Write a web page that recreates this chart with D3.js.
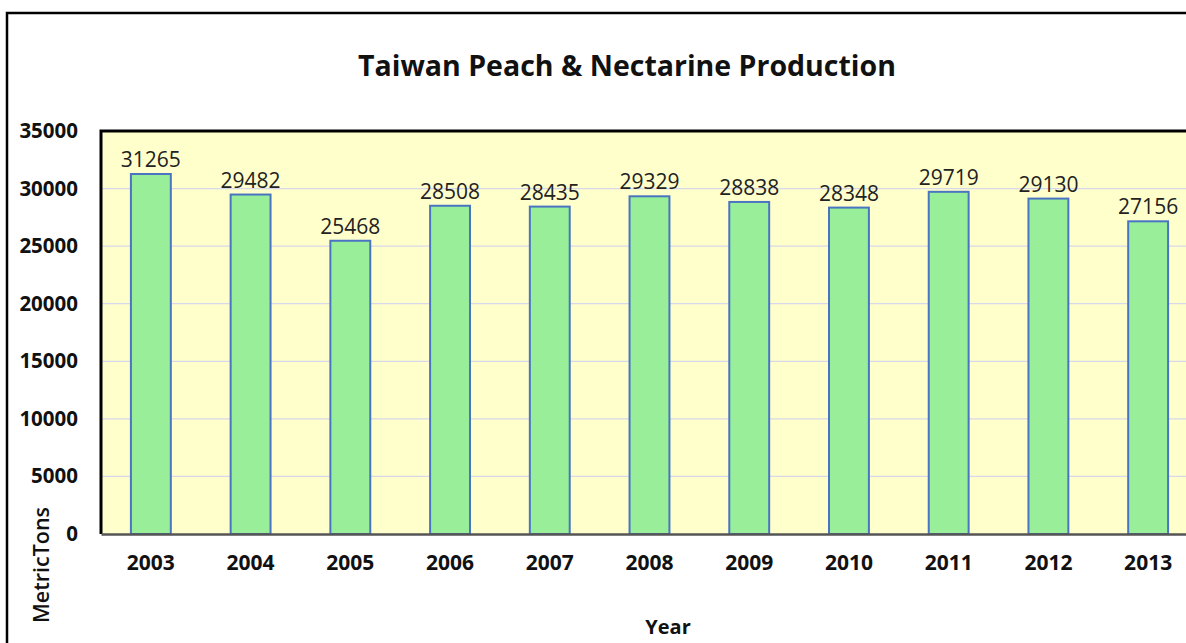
<!DOCTYPE html>
<html>
<head>
<meta charset="utf-8">
<script src="https://cdn.jsdelivr.net/npm/d3@7"></script>
<style>
	html, body { margin: 0; padding: 0; background: #fff; }
	svg { display: block; font-family: "Open Sans", sans-serif; }
</style>
</head>
<body>
<svg id="chart" width="1186" height="643"></svg>
<script>
const years = ['2003', '2004', '2005', '2006', '2007', '2008', '2009', '2010', '2011', '2012', '2013'];
const production = [31265, 29482, 25468, 28508, 28435, 29329, 28838, 28348, 29719, 29130, 27156];
const yTicks = [0, 5000, 10000, 15000, 20000, 25000, 30000, 35000];

const svg = d3.select('#chart');

const plot = { left: 101, top: 131, right: 1198, bottom: 534 };

// outer frame
svg.append('rect')
	.attr('x', 7).attr('y', 13)
	.attr('width', 1300).attr('height', 700)
	.attr('fill', '#fff')
	.attr('stroke', '#000')
	.attr('stroke-width', 2.5);

svg.append('text')
	.attr('x', 627).attr('y', 76)
	.attr('text-anchor', 'middle')
	.attr('font-size', 28.5)
	.attr('font-weight', 'bold')
	.attr('fill', '#111')
	.text('Taiwan Peach & Nectarine Production');

const x = d3.scaleBand(years, [plot.left, plot.right]).paddingInner(0.6).paddingOuter(0.3);
const y = d3.scaleLinear([0, 35000], [plot.bottom, plot.top]);

// plot background
svg.append('rect')
	.attr('x', plot.left).attr('y', plot.top)
	.attr('width', plot.right - plot.left).attr('height', plot.bottom - plot.top)
	.attr('fill', '#ffffcc');

// gridlines
svg.append('g')
	.selectAll('line')
	.data(yTicks.filter(d => d > 0 && d < 35000))
	.enter().append('line')
	.attr('x1', plot.left).attr('x2', plot.right)
	.attr('y1', d => y(d)).attr('y2', d => y(d))
	.attr('stroke', '#d8d8ec')
	.attr('stroke-width', 1.2);

// bars
svg.append('g')
	.selectAll('rect')
	.data(production)
	.enter().append('rect')
	.attr('x', (d, i) => x(years[i]))
	.attr('y', d => y(d))
	.attr('width', x.bandwidth())
	.attr('height', d => y(0) - y(d))
	.attr('fill', '#99ee99')
	.attr('stroke', '#4a74c2')
	.attr('stroke-width', 2);

// value labels
svg.append('g')
	.selectAll('text')
	.data(production)
	.enter().append('text')
	.attr('x', (d, i) => x(years[i]) + x.bandwidth() / 2)
	.attr('y', d => y(d) - 7)
	.attr('text-anchor', 'middle')
	.attr('font-size', 21)
	.attr('fill', '#222')
	.text(d => d);

// plot frame: thick left and top
svg.append('path')
	.attr('d', `M${plot.left},${plot.bottom}V${plot.top}H${plot.right}`)
	.attr('fill', 'none')
	.attr('stroke', '#000')
	.attr('stroke-width', 3);

// x axis
const xAxis = svg.append('g')
	.attr('transform', `translate(0,${plot.bottom})`)
	.call(d3.axisBottom(x).tickSize(0).tickPadding(21));
xAxis.select('.domain').attr('stroke', '#555').attr('stroke-width', 2.5);
xAxis.selectAll('text')
	.attr('font-family', '"Open Sans", sans-serif')
	.attr('font-size', 21)
	.attr('font-weight', 'bold')
	.attr('fill', '#111');

// y axis
const yAxis = svg.append('g')
	.attr('transform', `translate(${plot.left},0)`)
	.call(d3.axisLeft(y).tickValues(yTicks).tickFormat(d3.format('d')).tickSize(0).tickPadding(23));
yAxis.select('.domain').remove();
yAxis.selectAll('text')
	.attr('font-family', '"Open Sans", sans-serif')
	.attr('font-size', 20.5)
	.attr('font-weight', 'bold')
	.attr('fill', '#111');

// axis titles
svg.append('text')
	.attr('x', 668).attr('y', 634)
	.attr('text-anchor', 'middle')
	.attr('font-size', 20)
	.attr('font-weight', 'bold')
	.attr('fill', '#111')
	.text('Year');

svg.append('text')
	.attr('transform', 'translate(49,565) rotate(-90)')
	.attr('text-anchor', 'middle')
	.attr('font-size', 21.5)
	.attr('font-weight', 600)
	.attr('fill', '#111')
	.text('MetricTons');
</script>
</body>
</html>
